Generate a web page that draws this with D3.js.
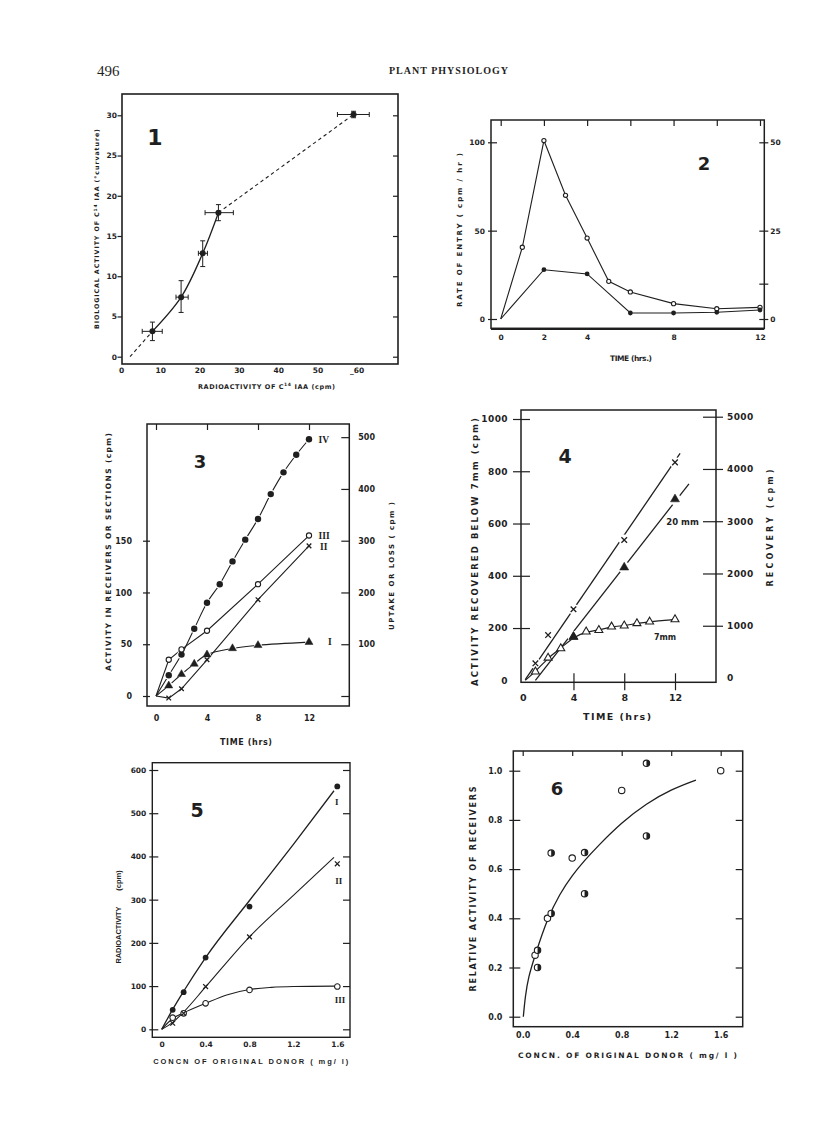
<!DOCTYPE html>
<html>
<head>
<meta charset="utf-8">
<script src="https://cdn.jsdelivr.net/npm/d3@7/dist/d3.min.js"></script>
<style>
html,body{margin:0;padding:0;background:#fff;}
svg{display:block;}
</style>
</head>
<body>
<svg id="page" width="816" height="1121"></svg>
<script>
// ================= DATA =================
// Fig 1
const f1X   = [8.0, 15.3, 20.8, 24.8, 59.2];
const f1Y   = [3.15, 7.4, 12.85, 17.9, 30.1];
const f1XLo = [5.4, 14.0, 19.7, 21.4, 55.1];
const f1XHi = [10.5, 17.1, 22.0, 28.6, 63.2];
const f1YLo = [2.0, 5.5, 11.2, 16.9, 29.7];
const f1YHi = [4.3, 9.45, 14.4, 18.9, 30.5];
const f1DashOrigin = [2.3, 0];
const f1XTicks = [0, 10, 20, 30, 40, 50, 60];
const f1XTickLabels = ["0", "10", "20", "30", "40", "50", "_60"];
const f1YTicks = [0, 5, 10, 15, 20, 25, 30];

// Fig 2
const f2OpenT   = [0, 1, 2, 3, 4, 5, 6, 8, 10, 12];
const f2Open    = [0, 40.6, 101, 70, 45.8, 21.3, 15.3, 8.7, 5.8, 6.6];
const f2FilledT = [0, 2, 4, 6, 8, 10, 12];
const f2Filled  = [0, 27.9, 25.5, 3.4, 3.4, 3.8, 5.1];
const f2XTicks  = [0, 2, 4, 6, 8, 10, 12];
const f2XLabels = [0, 2, 4, 8, 12];
const f2YLeft   = [0, 50, 100];
const f2YRight  = [0, 10, 25, 50];
const f2YRightLabels = ["0", "", "25", "50"];

// Fig 3
const f3IVT = [0, 1, 2, 3, 4, 5, 6, 7, 8, 9, 10, 11, 12];
const f3IV  = [0, 20, 40, 65, 90, 108, 130, 151, 171, 195, 216, 233, 248];
const f3IIIT = [0, 1, 2, 4, 8, 12];
const f3III  = [0, 35, 45, 63, 108, 155];
const f3IIT = [0, 1, 2, 4, 8, 12];
const f3II  = [0, -2, 7, 35, 93, 145];
const f3IT  = [0, 1, 2, 3, 4, 6, 8, 12];
const f3I   = [0, 10, 21, 31, 40, 46, 49, 52];
const f3XTicks = [0, 4, 8, 12];
const f3YLeft  = [0, 50, 100, 150];
const f3YRight = [0, 100, 200, 300, 400, 500];

// Fig 4
const f4XT = [1, 2, 4, 8, 12];
const f4XV = [65, 173, 272, 537, 834];
const f4XLineT = [0.2, 12.4];
const f4XLineV = [3, 868];
const f4T20 = [4, 8, 12];
const f4V20 = [167, 432, 693];
const f4Line20T = [1.0, 13.1];
const f4Line20V = [0, 752];
const f4T7 = [1, 2, 3, 4, 5, 6, 7, 8, 9, 10, 12];
const f4V7 = [33, 86, 122, 166, 186, 192, 205, 209, 218, 224, 233];
const f4Curve7T = [0.2, 1, 2, 3, 4, 5, 6, 7, 8, 9, 10, 12];
const f4Curve7V = [0, 33, 86, 122, 166, 186, 192, 205, 209, 218, 224, 233];
const f4XTicks = [0, 4, 8, 12];
const f4YLeft  = [0, 200, 400, 600, 800, 1000];
const f4YRight = [0, 1000, 2000, 3000, 4000, 5000];

// Fig 5
const f5C   = [0.1, 0.2, 0.4, 0.8, 1.6];
const f5I   = [45, 86, 166, 284, 562];
const f5II  = [14, 37, 99, 214, 383];
const f5III = [27, 37, 60, 91, 99];
const f5CurveIC = [0, 0.1, 0.2, 0.4, 0.8, 1.2, 1.57];
const f5CurveI  = [0, 46, 88, 166, 298, 428, 552];
const f5CurveIIC = [0, 0.1, 0.2, 0.4, 0.8, 1.2, 1.57];
const f5CurveII  = [0, 16, 40, 98, 214, 310, 398];
const f5CurveIIIC = [0, 0.1, 0.2, 0.4, 0.6, 0.8, 1.0, 1.2, 1.57];
const f5CurveIII  = [0, 25, 38, 60, 80, 92, 97, 99, 100];
const f5XTicks = [0, 0.4, 0.8, 1.2, 1.6];
const f5XLabels = ["0", "0.4", "0.8", "1.2", "1.6"];
const f5YTicks = [0, 100, 200, 300, 400, 500, 600];

// Fig 6
const f6HalfC = [1.0, 1.0, 0.23, 0.5, 0.5, 0.23, 0.12, 0.12];
const f6HalfV = [1.03, 0.735, 0.665, 0.667, 0.5, 0.42, 0.27, 0.2];
const f6OpenC = [1.6, 0.8, 0.4, 0.2, 0.1];
const f6OpenV = [1.0, 0.92, 0.645, 0.4, 0.25];
const f6CurveC = [0.005, 0.02, 0.045, 0.1, 0.2, 0.3, 0.4, 0.5, 0.6, 0.8, 1.0, 1.2, 1.4];
const f6CurveV = [0, 0.08, 0.16, 0.25, 0.4, 0.5, 0.575, 0.635, 0.69, 0.79, 0.867, 0.924, 0.962];
const f6XTicks = [0, 0.4, 0.8, 1.2, 1.6];
const f6YTicks = [0, 0.2, 0.4, 0.6, 0.8, 1.0];

// ================= DRAWING =================
const INK = "#1f1f1f";
const SANS = "'DejaVu Sans', sans-serif";
const ARIAL = "'Liberation Sans', Arial, sans-serif";
const SERIF = "'Liberation Serif', 'DejaVu Serif', serif";
const svg = d3.select("#page");
svg.append("rect").attr("width", 816).attr("height", 1121).attr("fill", "#fff");

const zip = (a, b) => a.map((v, i) => [v, b[i]]);

function axis(g, orient, sc, vals, pos, o = {}) {
  const gen = {left: d3.axisLeft, right: d3.axisRight, top: d3.axisTop, bottom: d3.axisBottom}[orient](sc)
    .tickValues(vals).tickSize(0).tickPadding(o.pad ?? 4)
    .tickFormat((d, i) => o.labels === false ? "" : (Array.isArray(o.labels) ? o.labels[i] : (o.fmt ? o.fmt(d) : String(d))));
  const vert = orient === "left" || orient === "right";
  const a = g.append("g").attr("transform", vert ? `translate(${pos},0)` : `translate(0,${pos})`).call(gen);
  a.select(".domain").remove();
  a.selectAll(".tick text").attr("fill", INK).attr("font-size", o.size || 8)
    .attr("font-weight", o.weight || "bold").attr("font-family", o.family || SANS)
    .attr("letter-spacing", o.ls || 0);
  if (o.t) {
    a.selectAll(".tick line").attr("stroke", INK).attr("stroke-width", o.sw || 1.2)
      .attr(vert ? "x1" : "y1", o.t[0]).attr(vert ? "x2" : "y2", o.t[1]);
  } else a.selectAll(".tick line").remove();
  if (o.labels === false) a.selectAll(".tick text").remove();
  return a;
}

function txt(g, s, x, y, o = {}) {
  const t = g.append("text").attr("x", x).attr("y", y).attr("fill", INK)
    .attr("font-family", o.family || SANS).attr("font-size", o.size || 8)
    .attr("font-weight", o.weight || "bold").attr("text-anchor", o.anchor || "middle");
  if (o.ls) t.attr("letter-spacing", o.ls);
  if (Array.isArray(s)) {
    s.forEach(p => {
      const ts = t.append("tspan").text(p.s);
      if (p.sup) ts.attr("font-size", (o.size || 8) * 0.7).attr("dy", -(o.size || 8) * 0.4);
      if (p.down) ts.attr("dy", (o.size || 8) * 0.4);
    });
  } else t.text(s);
  if (o.len) t.attr("textLength", o.len).attr("lengthAdjust", "spacing");
  return t;
}
function vtxt(g, s, cx, cy, o = {}) {
  const gg = g.append("g").attr("transform", `translate(${cx},${cy}) rotate(-90)`);
  return txt(gg, s, 0, 0, o).attr("dy", "0.36em");
}
function frame(g, x0, y0, x1, y1, w = 1.5) {
  g.append("rect").attr("x", x0).attr("y", y0).attr("width", x1 - x0).attr("height", y1 - y0)
    .attr("fill", "none").attr("stroke", INK).attr("stroke-width", w);
}
function path(g, pts, sx, sy, curve, o = {}) {
  const line = d3.line().x(d => sx(d[0])).y(d => sy(d[1])).curve(curve || d3.curveLinear);
  const p = g.append("path").datum(pts).attr("d", line).attr("fill", "none")
    .attr("stroke", INK).attr("stroke-width", o.w || 1.1);
  if (o.dash) p.attr("stroke-dasharray", o.dash);
  return p;
}
function marks(g, pts, sx, sy, kind, r) {
  const sel = g.append("g").selectAll("g").data(pts).join("g")
    .attr("transform", d => `translate(${sx(d[0])},${sy(d[1])})`);
  if (kind === "halo") sel.append("circle").attr("r", r).attr("fill", "#fff");
  if (kind === "filled") sel.append("circle").attr("r", r).attr("fill", INK);
  if (kind === "open") sel.append("circle").attr("r", r).attr("fill", "#fff").attr("stroke", INK).attr("stroke-width", 1.1);
  if (kind === "x") sel.append("path").attr("d", `M${-r},${-r}L${r},${r}M${-r},${r}L${r},${-r}`)
    .attr("stroke", INK).attr("stroke-width", 1.3).attr("fill", "none");
  if (kind === "tri" || kind === "otri") sel.append("path")
    .attr("d", d3.symbol().type(d3.symbolTriangle).size(r * r * 1.3)())
    .attr("fill", kind === "tri" ? INK : "#fff").attr("stroke", INK).attr("stroke-width", kind === "tri" ? 0.5 : 1.1);
  if (kind === "half") {
    sel.append("circle").attr("r", r).attr("fill", "#fff").attr("stroke", INK).attr("stroke-width", 1.1);
    sel.append("path").attr("d", `M0,${-r}A${r},${r} 0 0 1 0,${r}Z`).attr("fill", INK);
  }
  return sel;
}

// ---------- Header ----------
txt(svg, "496", 97, 76, {size: 15, weight: "normal", family: SERIF, anchor: "start"});
txt(svg, "PLANT PHYSIOLOGY", 449, 74, {size: 10, weight: "bold", family: SERIF, ls: 1});

// ---------- Fig 1 ----------
{
  const g = svg.append("g");
  const sx = d3.scaleLinear().domain([0, 60]).range([121, 356.7]);
  const sy = d3.scaleLinear().domain([0, 30]).range([356.7, 115.3]);
  frame(g, 122, 94, 398, 364, 1.6);
  axis(g, "left", sy, f1YTicks, 122, {t: [-4.5, 0], pad: 5, size: 7.5});
  axis(g, "right", sy, f1YTicks, 398, {t: [-5, 0], labels: false});
  axis(g, "bottom", sx, f1XTicks, 364, {labels: f1XTickLabels, pad: 4, size: 7.5});
  const pts = zip(f1X, f1Y);
  path(g, [f1DashOrigin, pts[0]], sx, sy, null, {dash: "3.5,3"});
  path(g, [pts[3], pts[4]], sx, sy, null, {dash: "3.5,3"});
  path(g, pts.slice(0, 4), sx, sy, d3.curveCatmullRom, {w: 1.3});
  const eb = g.append("g").attr("stroke", INK).attr("stroke-width", 1);
  f1X.forEach((x, i) => {
    const cy = sy(f1Y[i]), cx = sx(x);
    eb.append("line").attr("x1", sx(f1XLo[i])).attr("x2", sx(f1XHi[i])).attr("y1", cy).attr("y2", cy);
    eb.append("line").attr("x1", sx(f1XLo[i])).attr("x2", sx(f1XLo[i])).attr("y1", cy - 2.5).attr("y2", cy + 2.5);
    eb.append("line").attr("x1", sx(f1XHi[i])).attr("x2", sx(f1XHi[i])).attr("y1", cy - 2.5).attr("y2", cy + 2.5);
    eb.append("line").attr("x1", cx).attr("x2", cx).attr("y1", sy(f1YLo[i])).attr("y2", sy(f1YHi[i]));
    eb.append("line").attr("x1", cx - 2.5).attr("x2", cx + 2.5).attr("y1", sy(f1YLo[i])).attr("y2", sy(f1YLo[i]));
    eb.append("line").attr("x1", cx - 2.5).attr("x2", cx + 2.5).attr("y1", sy(f1YHi[i])).attr("y2", sy(f1YHi[i]));
  });
  marks(g, pts, sx, sy, "filled", 3);
  txt(g, "1", 155, 145, {size: 22});
  txt(g, [{s: "RADIOACTIVITY  OF  C"}, {s: "14", sup: true}, {s: "  IAA  (cpm)", down: true}], 266.5, 389, {size: 6.5, len: 137});
  vtxt(g, [{s: "BIOLOGICAL ACTIVITY OF C"}, {s: "14", sup: true}, {s: " IAA (°curvature)", down: true}], 97, 229, {size: 6.3, len: 200});
}

// ---------- Fig 2 ----------
{
  const g = svg.append("g");
  const sx = d3.scaleLinear().domain([0, 12]).range([500.7, 760]);
  const sy = d3.scaleLinear().domain([0, 100]).range([319, 142.3]);
  const syr = d3.scaleLinear().domain([0, 50]).range([319, 142.3]);
  frame(g, 491, 120, 764.3, 328.3, 1.5);
  g.append("line").attr("x1", 491).attr("x2", 764.3).attr("y1", 329.5).attr("y2", 329.5).attr("stroke", INK).attr("stroke-width", 1);
  axis(g, "left", sy, f2YLeft, 491, {t: [-3, 6], pad: 6, size: 7.5});
  axis(g, "right", syr, f2YRight, 764.3, {t: [-5, 4], pad: 6, size: 7.5, labels: f2YRightLabels});
  axis(g, "top", sx, f2XTicks, 120, {t: [0, 6], labels: false});
  axis(g, "bottom", sx, f2XLabels, 328.3, {pad: 6, size: 7.5});
  path(g, zip(f2OpenT, f2Open), sx, sy);
  path(g, zip(f2FilledT, f2Filled), sx, sy);
  marks(g, zip(f2OpenT, f2Open).slice(1), sx, sy, "open", 2.1);
  marks(g, zip(f2FilledT, f2Filled).slice(1), sx, sy, "filled", 2.4);
  txt(g, "2", 704, 170, {size: 18});
  vtxt(g, "RATE  OF  ENTRY  ( cpm / hr )", 459.3, 230, {size: 7, len: 154});
  txt(g, "TIME  (hrs.)", 631, 361, {size: 7.5, len: 42});
}

// ---------- Fig 3 ----------
{
  const g = svg.append("g");
  const sx = d3.scaleLinear().domain([0, 12]).range([156, 309]);
  const sy = d3.scaleLinear().domain([0, 150]).range([696, 540.7]);
  const syr = d3.scaleLinear().domain([0, 300]).range([696, 540.7]);
  frame(g, 147, 424, 349.3, 706, 1.5);
  axis(g, "left", sy, f3YLeft, 147, {t: [-4, 3], pad: 15, size: 8});
  axis(g, "right", syr, f3YRight, 349.3, {t: [-8, 0], pad: 9, size: 8, labels: ["", "100", "200", "300", "400", "500"]});
  axis(g, "top", sx, f3XTicks, 424, {t: [0, 6], labels: false});
  axis(g, "bottom", sx, f3XTicks, 706, {pad: 9, size: 8});
  const iv = zip(f3IVT, f3IV), iii = zip(f3IIIT, f3III), ii = zip(f3IIT, f3II), i1 = zip(f3IT, f3I);
  path(g, iv, sx, sy, d3.curveCatmullRom);
  path(g, iii, sx, sy);
  path(g, ii, sx, sy);
  path(g, i1, sx, sy, d3.curveCatmullRom);
  marks(g, iv.slice(1), sx, sy, "halo", 4.3);
  marks(g, i1.slice(1), sx, sy, "halo", 3.8);
  marks(g, iv.slice(1), sx, sy, "filled", 3.2);
  marks(g, iii.slice(1), sx, sy, "open", 2.6);
  marks(g, ii.slice(1), sx, sy, "x", 2.3);
  marks(g, i1.slice(1), sx, sy, "tri", 4.6);
  txt(g, "3", 200, 468, {size: 18});
  txt(g, "IV", 318.5, 443, {size: 9.5, family: SERIF, anchor: "start"});
  txt(g, "III", 318.5, 538.5, {size: 9.5, family: SERIF, anchor: "start"});
  txt(g, "II", 320, 549.5, {size: 9.5, family: SERIF, anchor: "start"});
  txt(g, "I", 328, 645, {size: 9.5, family: SERIF, anchor: "start"});
  vtxt(g, "ACTIVITY  IN  RECEIVERS  OR  SECTIONS  (cpm)", 108, 552, {size: 7.5, len: 238});
  vtxt(g, "UPTAKE  OR  LOSS  ( cpm )", 391.7, 566, {size: 7, len: 128});
  txt(g, "TIME  (hrs)", 246, 745, {size: 8, len: 52});
}

// ---------- Fig 4 ----------
{
  const g = svg.append("g");
  const sx = d3.scaleLinear().domain([0, 12]).range([522.7, 675]);
  const sy = d3.scaleLinear().domain([0, 1000]).range([680.3, 419]);
  const syr = d3.scaleLinear().domain([0, 5000]).range([678, 416.7]);
  frame(g, 521, 410, 716, 682.3, 1.5);
  axis(g, "left", sy, f4YLeft, 521, {pad: 13, size: 9, ls: 0.4});
  axis(g, "left", sy, f4YLeft.slice(1), 521, {t: [-8, 9], labels: false});
  axis(g, "right", syr, f4YRight, 716, {pad: 11, size: 9, ls: 0.4});
  axis(g, "right", syr, f4YRight.slice(1), 716, {t: [-13, 7], labels: false});
  axis(g, "bottom", sx, f4XTicks, 682.3, {pad: 12, size: 9.5});
  axis(g, "bottom", sx, f4XTicks.slice(1), 682.3, {t: [-9, 8], labels: false});
  const xl = zip(f4XLineT, f4XLineV), l20 = zip(f4Line20T, f4Line20V), c7 = zip(f4Curve7T, f4Curve7V);
  path(g, xl, sx, sy, null, {w: 1.3});
  path(g, l20, sx, sy, null, {w: 1.3});
  const xs = zip(f4XT, f4XV), t20 = zip(f4T20, f4V20), t7 = zip(f4T7, f4V7);
  marks(g, xs, sx, sy, "halo", 5.5);
  marks(g, t20, sx, sy, "halo", 6);
  path(g, c7, sx, sy, d3.curveBasis, {w: 1.2});
  marks(g, t7, sx, sy, "otri", 4.6);
  marks(g, xs, sx, sy, "x", 2.8);
  marks(g, t20, sx, sy, "tri", 5.2);
  txt(g, "4", 565, 463, {size: 19});
  txt(g, "20 mm", 682.5, 525, {size: 8.5});
  txt(g, "7mm", 665, 640, {size: 8});
  vtxt(g, "ACTIVITY  RECOVERED  BELOW  7mm (cpm)", 475, 552, {size: 8.5, len: 268});
  vtxt(g, "RECOVERY  (cpm)", 770, 528, {size: 8, len: 117});
  txt(g, "TIME (hrs)", 617, 720, {size: 9.5, len: 68});
}

// ---------- Fig 5 ----------
{
  const g = svg.append("g");
  const sx = d3.scaleLinear().domain([0, 1.6]).range([161.7, 337.3]);
  const sy = d3.scaleLinear().domain([0, 600]).range([1029.3, 770]);
  frame(g, 152.3, 762.7, 350, 1037.3, 1.4);
  axis(g, "left", sy, f5YTicks, 152.3, {t: [-3, 6], pad: 6, size: 7.5});
  axis(g, "right", sy, f5YTicks, 350, {t: [-7, 0], labels: false});
  axis(g, "bottom", sx, f5XTicks, 1037.3, {labels: f5XLabels, pad: 4, size: 7.5});
  path(g, zip(f5CurveIC, f5CurveI), sx, sy, d3.curveMonotoneX, {w: 1.3});
  path(g, zip(f5CurveIIC, f5CurveII), sx, sy, d3.curveMonotoneX, {w: 1.1});
  path(g, zip(f5CurveIIIC, f5CurveIII), sx, sy, d3.curveMonotoneX, {w: 1.1});
  marks(g, zip(f5C, f5III), sx, sy, "open", 2.8);
  marks(g, zip(f5C, f5I), sx, sy, "filled", 2.9);
  marks(g, zip(f5C, f5II), sx, sy, "x", 2.4);
  txt(g, "5", 197, 817, {size: 19});
  txt(g, "I", 336.7, 805, {size: 9, family: SERIF});
  txt(g, "II", 338.7, 884, {size: 9, family: SERIF});
  txt(g, "III", 340, 1002.5, {size: 9, family: SERIF});
  vtxt(g, "RADIOACTIVITY", 118.3, 935, {size: 7.5, len: 57, family: ARIAL});
  vtxt(g, "(cpm)", 118.3, 880.5, {size: 7.5, family: ARIAL});
  txt(g, "CONCN   OF   ORIGINAL   DONOR   ( mg/ l)", 250.7, 1064, {size: 7.5, len: 195, family: ARIAL});
}

// ---------- Fig 6 ----------
{
  const g = svg.append("g");
  const sx = d3.scaleLinear().domain([0, 1.6]).range([522.7, 720.7]);
  const sy = d3.scaleLinear().domain([0, 1]).range([1016.7, 770.7]);
  frame(g, 513.3, 751, 742.7, 1026.7, 1.5);
  const f = d3.format(".1f");
  axis(g, "left", sy, f6YTicks, 513.3, {t: [-4, 7], pad: 11, size: 8, fmt: f});
  axis(g, "right", sy, f6YTicks, 742.7, {t: [-7, 0], labels: false});
  axis(g, "top", sx, f6XTicks, 751, {t: [0, 5], labels: false});
  axis(g, "bottom", sx, f6XTicks, 1026.7, {pad: 6, size: 8, fmt: f});
  path(g, zip(f6CurveC, f6CurveV), sx, sy, d3.curveBasis, {w: 1.3});
  marks(g, zip(f6OpenC, f6OpenV), sx, sy, "open", 3.2);
  marks(g, zip(f6HalfC, f6HalfV), sx, sy, "half", 3.2);
  txt(g, "6", 557, 795, {size: 18});
  vtxt(g, "RELATIVE  ACTIVITY  OF  RECEIVERS", 473.3, 889, {size: 8, len: 205});
  txt(g, "CONCN.  OF  ORIGINAL  DONOR  ( mg/ l )", 627.5, 1058, {size: 7.5, len: 219});
}
</script>
</body>
</html>
